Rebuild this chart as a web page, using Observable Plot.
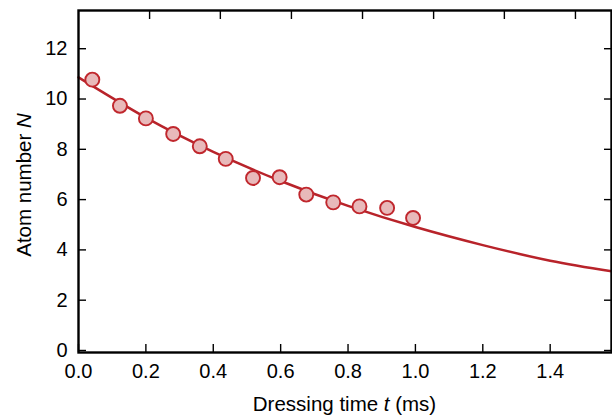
<!DOCTYPE html>
<html><head><meta charset="utf-8">
<script src="https://cdn.jsdelivr.net/npm/d3@7"></script>
<script src="https://cdn.jsdelivr.net/npm/@observablehq/plot@0.6"></script>
<style>body{margin:0;background:#fff} #chart svg{display:block}</style>
</head><body><div id="chart"></div>
<script>
// Measured data points
const timeMs = [0.041, 0.123, 0.200, 0.281, 0.360, 0.437, 0.518, 0.597, 0.676, 0.756, 0.834, 0.916, 0.993];
const atomN  = [10.77, 9.73, 9.23, 8.61, 8.12, 7.62, 6.86, 6.89, 6.20, 5.89, 5.73, 5.67, 5.27];
// Fit curve
const fitT = [0, 0.2, 0.4, 0.6, 0.8, 1.0, 1.2, 1.4, 1.582];
const fitN = [10.86, 9.26, 7.90, 6.74, 5.75, 4.91, 4.19, 3.57, 3.15];
// Ticks
const xTicks = [0, 0.2, 0.4, 0.6, 0.8, 1.0, 1.2, 1.4];
const topTicks = [0.211, 0.421, 0.632, 0.843, 1.054, 1.264, 1.475];
const yTicks = [0, 2, 4, 6, 8, 10, 12];
const xDomain = [0, 1.582];
const yDomain = [-0.08, 13.52];

const points = timeMs.map((t, i) => ({t, n: atomN[i]}));
const fit = fitT.map((t, i) => ({t, n: fitN[i]}));

const W = 612, H = 417, ML = 78, MR = 1, MT = 10, MB = 65;
const font = "'Liberation Sans', Arial, Helvetica, sans-serif";
const blank = () => "";

const svg = Plot.plot({
  width: W, height: H,
  marginLeft: ML, marginRight: MR, marginTop: MT, marginBottom: MB,
  style: {fontFamily: font, fontSize: "20px", background: "white", color: "black", overflow: "visible"},
  x: {domain: xDomain},
  y: {domain: yDomain},
  marks: [
    Plot.axisX(xTicks, {anchor: "bottom", tickSize: 0, tickPadding: 11, tickFormat: d3.format(".1f"), label: null, fontSize: 20}),
    Plot.axisX(xTicks, {anchor: "bottom", tickSize: -8, tickFormat: blank, label: null, strokeWidth: 1.4}),
    Plot.axisX(topTicks, {anchor: "top", tickSize: -8, tickFormat: blank, label: null, strokeWidth: 1.4}),
    Plot.axisY(yTicks, {anchor: "left", tickSize: 0, tickPadding: 11, label: null, fontSize: 20}),
    Plot.axisY(yTicks, {anchor: "left", tickSize: -8, tickFormat: blank, label: null, strokeWidth: 1.4}),
    Plot.axisY(yTicks, {anchor: "right", tickSize: -8, tickFormat: blank, label: null, strokeWidth: 1.4}),
    Plot.line(fit, {x: "t", y: "n", stroke: "#b8232a", strokeWidth: 2.5, curve: "natural"}),
    Plot.dot(points, {x: "t", y: "n", r: 7, fill: "#e8b9ba", stroke: "#c0272d", strokeWidth: 1.9}),
    Plot.frame({stroke: "black", strokeWidth: 2.4})
  ]
});

const s = d3.select(svg);
const xl = s.append("text")
  .attr("x", (ML + W - MR) / 2).attr("y", 411)
  .attr("text-anchor", "middle").attr("font-family", font).attr("font-size", 20.5).attr("fill", "black");
xl.append("tspan").text("Dressing time ");
xl.append("tspan").attr("font-style", "italic").text("t");
xl.append("tspan").text(" (ms)");

const yl = s.append("text")
  .attr("transform", `translate(31,${(MT + H - MB) / 2 + 4}) rotate(-90)`)
  .attr("text-anchor", "middle").attr("font-family", font).attr("font-size", 20.5).attr("fill", "black");
yl.append("tspan").text("Atom number ");
yl.append("tspan").attr("font-style", "italic").text("N");

document.getElementById("chart").appendChild(svg);
</script>
</body></html>
